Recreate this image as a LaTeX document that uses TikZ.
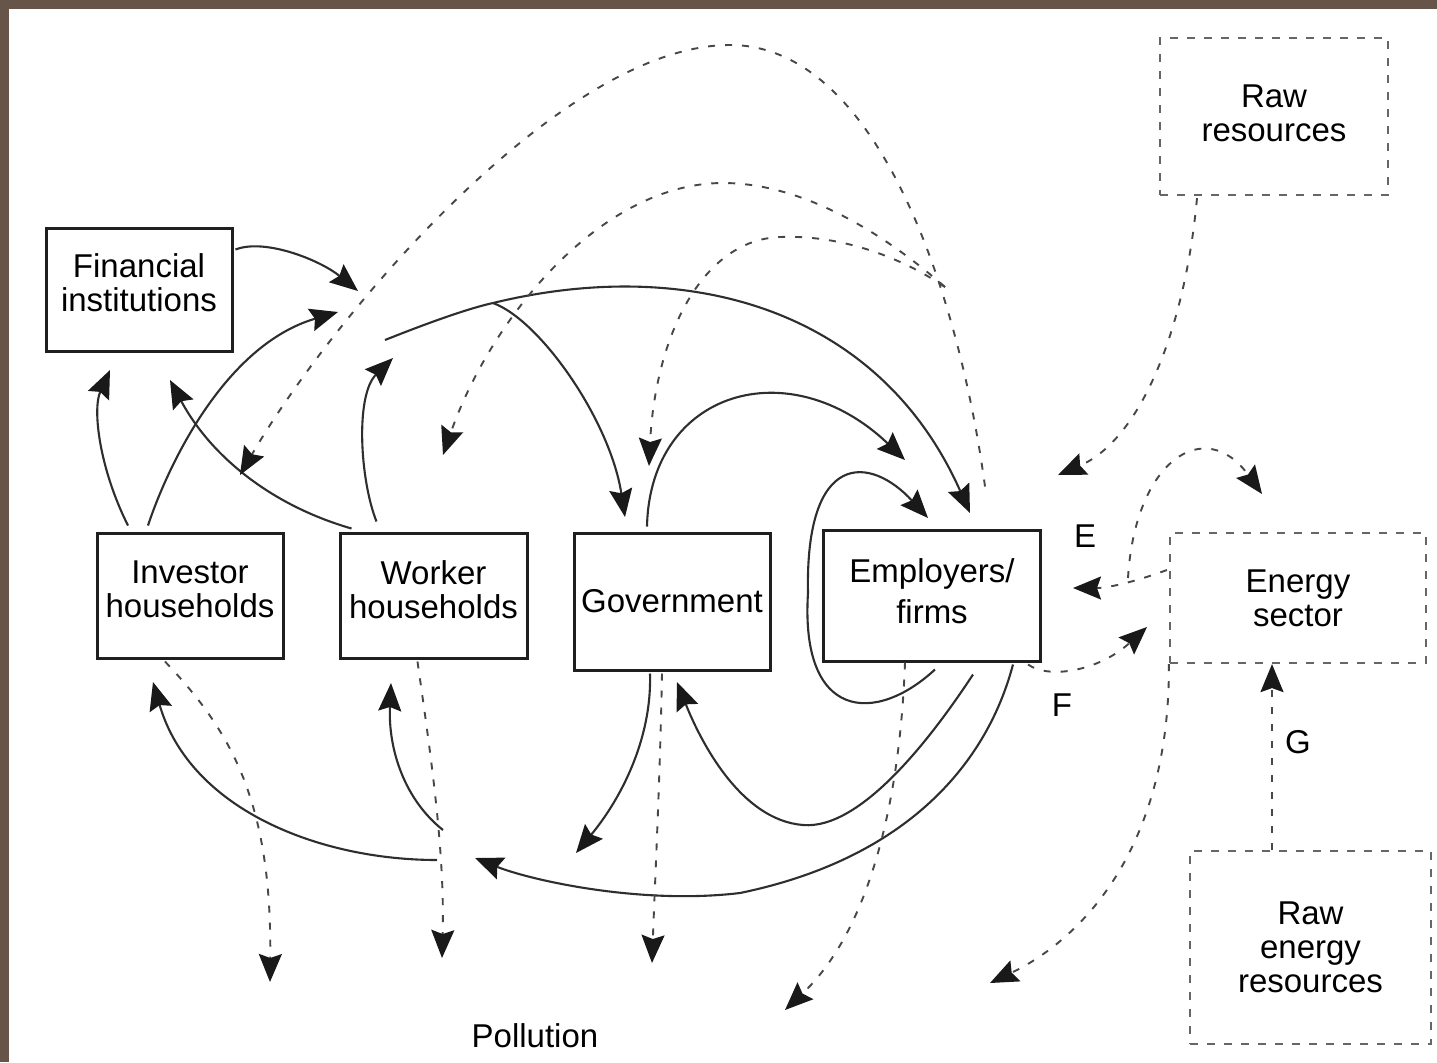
\documentclass[tikz,border=0pt]{standalone}
\usepackage{fontspec}
\setmainfont{Liberation Sans}
\usetikzlibrary{arrows.meta,calc}
\definecolor{framebrown}{RGB}{103,85,74}
\begin{document}
\begin{tikzpicture}[x=0.5pt,y=-0.5pt,
  every node/.style={font=\fontsize{16.5}{17}\selectfont, align=center, inner sep=0pt, text=black},
  box/.style={draw=black!88, line width=1.5pt},
  dbox/.style={draw=black!60, line width=1.1pt, dash pattern=on 4pt off 4.5pt},
  tip/.style={-{Stealth[length=14pt,width=11.5pt,inset=2pt,color=black!90]}},
  flow/.style={draw=black!82, line width=1.05pt, tip},
  dflow/.style={draw=black!72, line width=0.95pt, dash pattern=on 3.5pt off 5pt, tip},
]
\useasboundingbox (0,0) rectangle (1437,1062);
\fill[white] (0,0) rectangle (1437,1062);
\fill[framebrown] (0,0) rectangle (1437,9);
\fill[framebrown] (0,0) rectangle (9,1062);

% nodes
\node[box, minimum width=93pt, minimum height=61.5pt, text depth=7pt] (fin) at (139,289.5) {Financial\\institutions};
\node[box, minimum width=93pt, minimum height=62.5pt, text depth=6pt] (inv) at (190,595.5) {Investor\\households};
\node[box, minimum width=93.5pt, minimum height=62.5pt, text depth=6pt] (wrk) at (433.5,595.5) {Worker\\households};
\node[box, minimum width=98pt, minimum height=68.5pt] (gov) at (672,601.5) {Government};
\node[box, minimum width=108.5pt, minimum height=65.5pt, text depth=4pt, font=\fontsize{16.5}{20.5}\selectfont] (emp) at (932,595.5) {Employers/\\firms};
\node[dbox, minimum width=114pt, minimum height=78.5pt, text depth=3pt] (rawres) at (1274,116.5) {Raw\\resources};
\node[dbox, minimum width=128pt, minimum height=65pt] (energy) at (1298,598) {Energy\\sector};
\node[dbox, minimum width=120.5pt, minimum height=96.5pt] (rawen) at (1310.5,947.5) {Raw\\energy\\resources};

\node (lE) at (1085,536) {E};
\node (lF) at (1062,705) {F};
\node (lG) at (1298,742) {G};
\node (lP) at (535,1036) {Pollution};

% free ends
\coordinate (t1) at (358,291);
\coordinate (t2) at (338,312);
\coordinate (t3) at (110,370);
\coordinate (t4) at (170,380);
\coordinate (t5) at (393,358);
\coordinate (s6) at (385,340);
\coordinate (br6) at (493,303);
\coordinate (t6) at (970,513);
\coordinate (t7) at (625,517);
\coordinate (t8) at (905,460);
\coordinate (t9) at (928,518);
\coordinate (t10) at (576,853);
\coordinate (t11) at (677,682);
\coordinate (t12) at (475,858);
\coordinate (s13) at (437,860);
\coordinate (t13) at (153,682);
\coordinate (s14) at (443,830);
\coordinate (t14) at (391,683);

\coordinate (d1s) at ($(emp.north)+(53,-42)$);
\coordinate (d1b) at (945,287);
\coordinate (td1) at (240,475);
\coordinate (td2) at (443,455);
\coordinate (td3) at (649,466);
\coordinate (td4) at (1058,475);
\coordinate (td5) at (1073,588);
\coordinate (sd6) at (1128,578);
\coordinate (td6) at (1262,494);
\coordinate (td7) at (1147,627);
\coordinate (td8) at (990,983);
\coordinate (td10) at (270,982);
\coordinate (td11) at (442,958);
\coordinate (td12) at (652,963);
\coordinate (td13) at (785,1010);

% solid connectors
\draw[flow] ($(fin.east)+(2,-40)$) .. controls (265,238) and (320,260) .. (t1);
\draw[flow] ($(inv.north)+(-42,-6)$) .. controls (168,465) and (225,345) .. (t2);
\draw[flow] ($(inv.north)+(-62,-6)$) .. controls (100,470) and (92,410) .. (t3);
\draw[flow] ($(wrk.north)+(-82,-3)$) .. controls (270,505) and (210,455) .. (t4);
\draw[flow] ($(wrk.north)+(-57,-10)$) .. controls (360,480) and (355,395) .. (t5);
\draw[flow] (s6) .. controls (430,322) and (470,308) .. (br6) .. controls (690,255) and (880,310) .. (t6);
\draw[flow] (br6) .. controls (540,320) and (610,420) .. (t7);
\draw[flow] ($(gov.north)+(-25,-5)$) .. controls (650,390) and (790,350) .. (t8);
\draw[flow] ($(emp.south)+(3,7)$) .. controls (875,725) and (800,720) .. (808,593) .. controls (805,450) and (870,455) .. (t9);
\draw[flow] ($(gov.south)+(-22,2)$) .. controls (652,740) and (620,800) .. (t10);
\draw[flow] ($(emp.south)+(41,12)$) .. controls (930,740) and (860,830) .. (803,825) .. controls (740,820) and (700,740) .. (t11);
\draw[flow] ($(emp.south)+(81,2)$) .. controls (985,770) and (900,860) .. (740,893) .. controls (640,905) and (530,880) .. (t12);
\draw[flow] (s13) .. controls (320,860) and (190,810) .. (t13);
\draw[flow] (s14) .. controls (405,800) and (388,750) .. (t14);

% dashed connectors
\draw[dflow] (d1s) .. controls (960,300) and (880,45) .. (730,45) .. controls (560,45) and (330,320) .. (td1);
\draw[dflow] (d1b) .. controls (880,230) and (800,183) .. (723,183) .. controls (600,183) and (490,320) .. (td2);
\draw[dflow] (d1b) .. controls (890,250) and (830,235) .. (780,237) .. controls (700,240) and (655,340) .. (td3);
\draw[dflow] ($(rawres.south)+(-77,2)$) .. controls (1185,330) and (1140,440) .. (td4);
\draw[dflow] ($(energy.west)+(-2,-28)$) .. controls (1140,580) and (1110,588) .. (td5);
\draw[dflow] (sd6) .. controls (1135,460) and (1205,415) .. (td6);
\draw[dflow] ($(emp.south east)+(-14,2)$) .. controls (1050,680) and (1100,670) .. (td7);
\draw[dflow] (energy.south west) .. controls (1170,850) and (1080,940) .. (td8);
\draw[dflow] ([xshift=-19.25pt]rawen.north) -- ([xshift=-13pt]energy.south);
\draw[dflow] ($(inv.south)+(-25,2)$) .. controls (230,730) and (272,800) .. (td10);
\draw[dflow] ($(wrk.south)+(-16,2)$) .. controls (430,750) and (445,850) .. (td11);
\draw[dflow] ($(gov.south)+(-10,2)$) .. controls (660,780) and (655,880) .. (td12);
\draw[dflow] ($(emp.south)+(-27,0)$) .. controls (900,800) and (870,930) .. (td13);
\end{tikzpicture}
\end{document}
